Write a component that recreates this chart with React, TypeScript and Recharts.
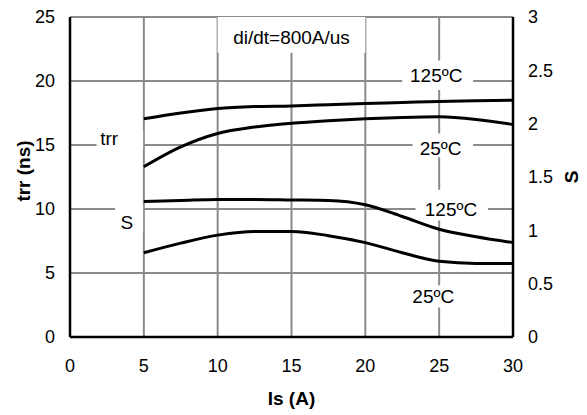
import {
  LineChart,
  Line,
  XAxis,
  YAxis,
  CartesianGrid,
  ReferenceArea,
  ReferenceDot,
} from "recharts";

// Is (A)
const currents = [5, 7.5, 10, 12.5, 15, 17.5, 20, 22.5, 25, 27.5, 30];
// trr (ns), left axis
const trrHot = [17.05, 17.5, 17.85, 18.0, 18.05, 18.15, 18.25, 18.32, 18.4, 18.45, 18.5];
const trrCold = [13.3, 14.85, 15.9, 16.4, 16.7, 16.9, 17.05, 17.15, 17.2, 17.0, 16.6];
// softness S, right axis
const sHot = [1.27, 1.28, 1.29, 1.29, 1.285, 1.28, 1.24, 1.13, 1.01, 0.94, 0.885];
const sCold = [0.79, 0.88, 0.955, 0.99, 0.99, 0.95, 0.885, 0.79, 0.71, 0.69, 0.69];

const xTicks = [0, 5, 10, 15, 20, 25, 30];
const leftTicks = [0, 5, 10, 15, 20, 25];
const rightTicks = [0, 0.5, 1, 1.5, 2, 2.5, 3];

const data = currents.map((x, i) => ({
  x,
  trrHot: trrHot[i],
  trrCold: trrCold[i],
  sHot: sHot[i],
  sCold: sCold[i],
}));

// text annotations (in left-axis units), with white boxes behind them
const notes = [
  { text: "di/dt=800A/us", x: 15, y: 23.45, size: 19, box: [10, 20, 22.2, 25] },
  { text: "125ºC", x: 24.8, y: 20.45, size: 19, box: [22.5, 27.3, 19.3, 21.6] },
  { text: "25ºC", x: 25.1, y: 14.75, size: 19, box: [23.2, 27.3, 14.05, 15.9] },
  { text: "125ºC", x: 25.8, y: 10.0, size: 19, box: [23.4, 28.3, 9.1, 11.5] },
  { text: "25ºC", x: 24.6, y: 3.2, size: 19, box: [23.2, 26.0, 2.3, 4.05] },
  { text: "trr", x: 2.65, y: 15.5, size: 19, box: [1.8, 4.95, 14.6, 16.2] },
  { text: "S", x: 3.85, y: 9.0, size: 19, box: [3.05, 4.95, 8.2, 10.3] },
];

const font = "'Liberation Sans', Arial, sans-serif";

export default function App() {
  return (
    <div style={{ position: "absolute", left: 0, top: 0, fontFamily: font }}>
      <LineChart
        width={587}
        height={415}
        data={data}
        margin={{ top: 17, right: 0, left: 0, bottom: 0 }}
      >
        <CartesianGrid
          yAxisId="left"
          stroke="#8a8a8a"
          strokeWidth={2}
        />
        <XAxis
          dataKey="x"
          type="number"
          domain={[0, 30]}
          ticks={xTicks}
          height={78}
          stroke="#000"
          strokeWidth={2.5}
          tickLine={false}
          tickSize={0}
          tickMargin={22}
          tick={{ fill: "#000", fontSize: 18, fontFamily: font }}
          label={{
            content: (p: any) => (
              <text
                x={p.viewBox.x + p.viewBox.width / 2}
                y={405}
                textAnchor="middle"
                fontWeight="bold"
                fontSize={19}
                fontFamily={font}
              >
                Is (A)
              </text>
            ),
          }}
        />
        <YAxis
          yAxisId="left"
          domain={[0, 25]}
          ticks={leftTicks}
          width={70}
          stroke="#000"
          strokeWidth={2.5}
          tickLine={false}
          tickSize={0}
          tickMargin={15}
          tick={{ fill: "#000", fontSize: 18, fontFamily: font }}
          label={{
            content: () => (
              <text
                transform="translate(30,171) rotate(-90)"
                textAnchor="middle"
                fontWeight="bold"
                fontSize={19}
                fontFamily={font}
              >
                trr (ns)
              </text>
            ),
          }}
        />
        <YAxis
          yAxisId="right"
          orientation="right"
          domain={[0, 3]}
          ticks={rightTicks}
          width={74}
          stroke="#000"
          strokeWidth={2.5}
          tickLine={false}
          tickSize={0}
          tickMargin={15}
          tick={{ fill: "#000", fontSize: 18, fontFamily: font }}
          label={{
            content: () => (
              <text
                transform="translate(578,177) rotate(-90)"
                textAnchor="middle"
                fontWeight="bold"
                fontSize={19}
                fontFamily={font}
              >
                S
              </text>
            ),
          }}
        />
        {notes.map((n, i) => (
          <ReferenceArea
            key={"b" + i}
            yAxisId="left"
            x1={n.box[0]}
            x2={n.box[1]}
            y1={n.box[2]}
            y2={n.box[3]}
            fill="#fff"
            fillOpacity={1}
            stroke="none"
            ifOverflow="visible"
          />
        ))}
        <Line yAxisId="left" dataKey="trrHot" type="monotone" stroke="#000" strokeWidth={3} dot={false} isAnimationActive={false} />
        <Line yAxisId="left" dataKey="trrCold" type="monotone" stroke="#000" strokeWidth={3} dot={false} isAnimationActive={false} />
        <Line yAxisId="right" dataKey="sHot" type="monotone" stroke="#000" strokeWidth={3} dot={false} isAnimationActive={false} />
        <Line yAxisId="right" dataKey="sCold" type="monotone" stroke="#000" strokeWidth={3} dot={false} isAnimationActive={false} />
        {notes.map((n, i) => (
          <ReferenceDot
            key={"t" + i}
            yAxisId="left"
            x={n.x}
            y={n.y}
            r={0}
            ifOverflow="visible"
            shape={(p: any) => (
              <text
                x={p.cx}
                y={p.cy}
                dy="0.36em"
                textAnchor="middle"
                fontSize={n.size}
                fontFamily={font}
                fill="#000"
              >
                {n.text}
              </text>
            )}
          />
        ))}
      </LineChart>
    </div>
  );
}
